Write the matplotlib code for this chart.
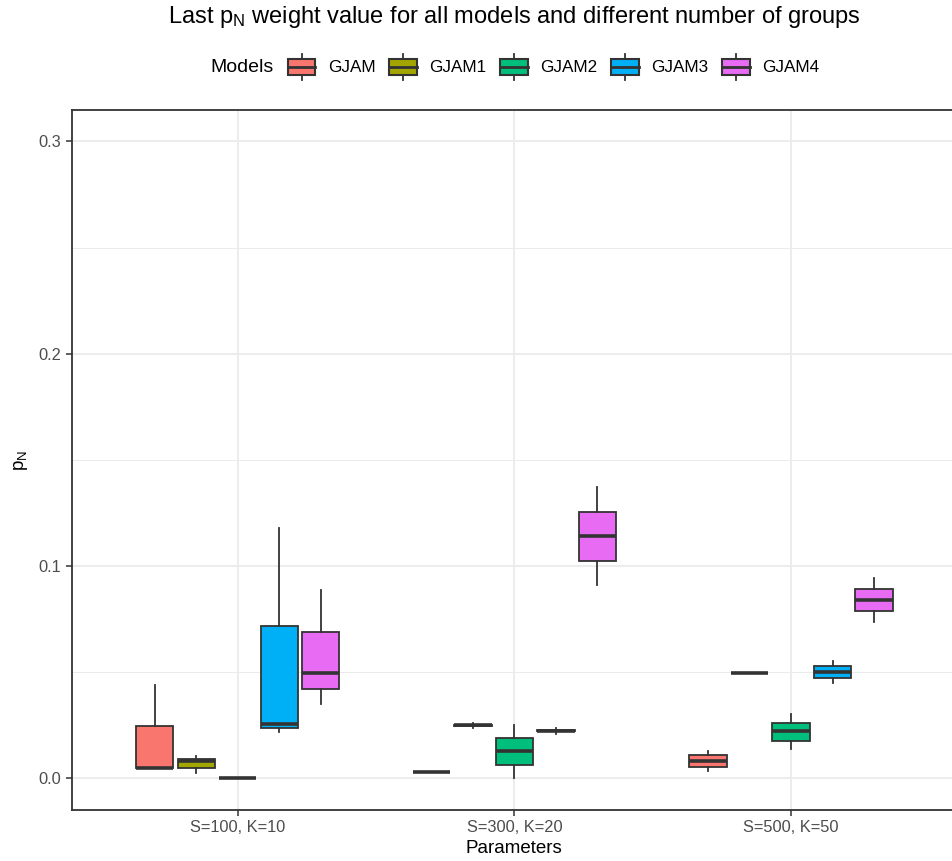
import matplotlib
matplotlib.use('Agg')
import matplotlib.pyplot as plt
from matplotlib.legend_handler import HandlerBase
from matplotlib.patches import Patch, Rectangle
from matplotlib.lines import Line2D

plt.rcParams['font.family'] = ['Liberation Sans', 'DejaVu Sans']

# 数据：每个模型在三组参数下的箱线统计量 (whislo, q1, med, q3, whishi)
params = ['S=100, K=10', 'S=300, K=20', 'S=500, K=50']
models = ['GJAM', 'GJAM1', 'GJAM2', 'GJAM3', 'GJAM4']
colors = ['#F8766D', '#A3A500', '#00BF7D', '#00B0F6', '#E76BF3']

whislo = [
    [0.0047, 0.0031, 0.0033],
    [0.0024, 0.0237, 0.0496],
    [0.0000, 0.0003, 0.0138],
    [0.0218, 0.0210, 0.0449],
    [0.0351, 0.0910, 0.0736],
]
q1 = [
    [0.0047, 0.0031, 0.0053],
    [0.0047, 0.0247, 0.0496],
    [0.0000, 0.0063, 0.0177],
    [0.0237, 0.0222, 0.0472],
    [0.0422, 0.1024, 0.0786],
]
med = [
    [0.0047, 0.0031, 0.0081],
    [0.0082, 0.0249, 0.0496],
    [0.0000, 0.0127, 0.0223],
    [0.0257, 0.0224, 0.0500],
    [0.0494, 0.1142, 0.0841],
]
q3 = [
    [0.0245, 0.0031, 0.0108],
    [0.0091, 0.0252, 0.0496],
    [0.0000, 0.0192, 0.0262],
    [0.0718, 0.0226, 0.0527],
    [0.0689, 0.1256, 0.0893],
]
whishi = [
    [0.0438, 0.0031, 0.0128],
    [0.0104, 0.0260, 0.0496],
    [0.0000, 0.0253, 0.0301],
    [0.1180, 0.0235, 0.0552],
    [0.0885, 0.1373, 0.0944],
]

W, H = 953, 861
edge = '#333333'


class HandlerBox(HandlerBase):
    # 图例里画一个小箱线图
    def create_artists(self, legend, orig_handle, xdescent, ydescent,
                       width, height, fontsize, trans):
        cy = height / 2 - ydescent
        bh = height * 0.66
        rect = Rectangle((-xdescent, cy - bh / 2), width, bh,
                         facecolor=orig_handle.get_facecolor(), edgecolor=edge,
                         lw=1.5, transform=trans)
        med_line = Line2D([-xdescent, -xdescent + width], [cy, cy], color=edge,
                          lw=2.0, transform=trans)
        xm = -xdescent + width / 2
        w_top = Line2D([xm, xm], [cy + bh / 2, cy + height * 0.5],
                       color=edge, lw=1.3, transform=trans)
        w_bot = Line2D([xm, xm], [cy - bh / 2, cy - height * 0.5],
                       color=edge, lw=1.3, transform=trans)
        return [w_top, w_bot, rect, med_line]


fig = plt.figure(figsize=(W / 100, H / 100), dpi=100)
ax = fig.add_axes([71.7 / W, 1 - 810 / H, (957 - 71.7) / W, (810 - 110) / H])

offsets = [-0.30, -0.15, 0.0, 0.15, 0.30]
for i, m in enumerate(models):
    stats = []
    for g in range(len(params)):
        stats.append(dict(whislo=whislo[i][g], q1=q1[i][g], med=med[i][g],
                          q3=q3[i][g], whishi=whishi[i][g], fliers=[]))
    pos = [g + 1 + offsets[i] for g in range(len(params))]
    bp = ax.bxp(stats, positions=pos, widths=0.135, patch_artist=True,
                showcaps=False, showfliers=False,
                boxprops=dict(facecolor=colors[i], edgecolor=edge, linewidth=1.3),
                medianprops=dict(color=edge, linewidth=2.6),
                whiskerprops=dict(color=edge, linewidth=1.3))
    for b in bp['boxes']:
        b.set_zorder(3)
    for l in bp['medians'] + bp['whiskers']:
        l.set_zorder(3)

ax.set_xlim(0.4, 3.6)
ax.set_ylim(-0.0149, 0.3148)
ax.set_xticks([1, 2, 3])
ax.set_xticklabels(params)
ax.set_yticks([0.0, 0.1, 0.2, 0.3])
ax.set_yticklabels(['0.0', '0.1', '0.2', '0.3'])
ax.set_yticks([0.05, 0.15, 0.25], minor=True)

ax.grid(True, which='major', color='#EBEBEB', linewidth=1.3, zorder=0)
ax.grid(True, which='minor', axis='y', color='#EBEBEB', linewidth=0.7, zorder=0)
ax.set_axisbelow(True)
ax.tick_params(which='major', length=4, width=1.1, color=edge, labelcolor='#4D4D4D',
               labelsize=11.8, pad=3.5)
ax.tick_params(which='minor', length=0)
for s in ax.spines.values():
    s.set_color(edge)
    s.set_linewidth(1.3)

ax.set_xlabel('Parameters', fontsize=13.5, labelpad=3)
ax.set_ylabel(r'$\mathregular{p_N}$', fontsize=13.5, labelpad=6)

fig.text(514 / W, 1 - 17 / H,
         r'Last $\mathregular{p_N}$ weight value for all models and different number of groups',
         ha='center', va='center', fontsize=17)

# 图例
fig.text(274 / W, 1 - 67 / H, 'Models', ha='right', va='center', fontsize=14)
handles = [Patch(facecolor=c) for c in colors]
leg = fig.legend(handles, models, loc='center left', bbox_to_anchor=(288 / W, 1 - 67 / H),
                 ncol=5, frameon=False, fontsize=12.3, handler_map={Patch: HandlerBox()},
                 handlelength=1.6, handleheight=1.9, handletextpad=0.75,
                 columnspacing=0.8, borderpad=0, borderaxespad=0)

fig.savefig('out.png', dpi=100)
